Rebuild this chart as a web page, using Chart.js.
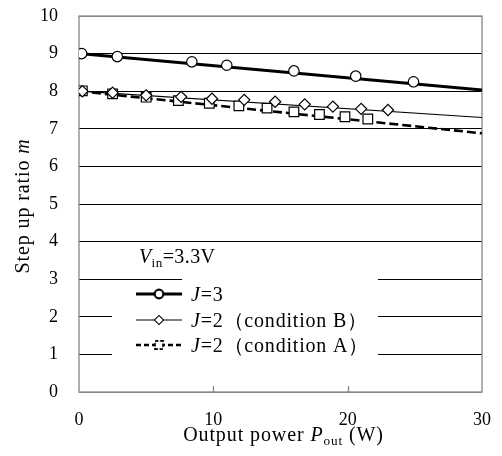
<!DOCTYPE html>
<html>
<head>
<meta charset="utf-8">
<style>
  html, body { margin: 0; padding: 0; background: #fff; }
  canvas { display: block; }
</style>
<script src="https://cdn.jsdelivr.net/npm/chart.js@4.4.1/dist/chart.umd.min.js"></script>
</head>
<body>
<canvas id="chart" width="502" height="456"></canvas>
<script>
const j3Power = [0.2, 2.85, 8.4, 11.0, 16.0, 20.6, 24.9];
const j3Ratio = [9.00, 8.92, 8.78, 8.69, 8.54, 8.40, 8.25];

const condBPower = [0.25, 2.5, 5.0, 7.6, 9.9, 12.3, 14.6, 16.8, 18.9, 21.0, 23.0];
const condBRatio = [8.00, 7.96, 7.89, 7.85, 7.80, 7.77, 7.72, 7.65, 7.59, 7.53, 7.50];

const condAPower = [0.25, 2.5, 5.0, 7.4, 9.7, 11.9, 14.0, 16.0, 17.9, 19.8, 21.5];
const condARatio = [8.01, 7.93, 7.84, 7.75, 7.68, 7.61, 7.55, 7.45, 7.38, 7.32, 7.26];

// linear trend lines, start and end of the x range
const trendPower = [0, 30];
const j3Trend = [9.00, 8.03];
const condBTrend = [8.00, 7.30];
const condATrend = [8.00, 6.88];

const xTicks = [0, 10, 20, 30];
const yTicks = [0, 1, 2, 3, 4, 5, 6, 7, 8, 9, 10];

const legendLabels = ['=3', '=2（condition B）', '=2（condition A）'];
const vinLabel = '=3.3V';

const SERIF = '"Liberation Serif", "Times New Roman", serif';
const TXT = 20;

function pts(xs, ys) {
  return xs.map((x, i) => ({ x: x, y: ys[i] }));
}

// mixed-style text runs: [text, italic, subscript]
function setRunFont(ctx, r, size) {
  const s = r[2] ? size * 0.66 : size;
  ctx.font = (r[1] ? 'italic ' : '') + s + 'px ' + SERIF;
}
function drawRuns(ctx, runs, x, y, size) {
  let cx = x;
  runs.forEach(r => {
    setRunFont(ctx, r, size);
    ctx.fillText(r[0], cx, r[2] ? y + size * 0.22 : y);
    cx += ctx.measureText(r[0]).width;
  });
  return cx - x;
}
function runsWidth(ctx, runs, size) {
  let w = 0;
  runs.forEach(r => {
    setRunFont(ctx, r, size);
    w += ctx.measureText(r[0]).width;
  });
  return w;
}

const framePlugin = {
  id: 'frame',
  beforeDatasetsDraw(chart) {
    const ctx = chart.ctx;
    const a = chart.chartArea;
    const xs = chart.scales.x;
    ctx.save();
    ctx.strokeStyle = '#858585';
    ctx.lineWidth = 1.3;
    ctx.strokeRect(a.left, a.top, a.right - a.left, a.bottom - a.top);
    // small inward tick marks on the x axis
    xTicks.slice(1, -1).forEach(v => {
      const px = Math.round(xs.getPixelForValue(v)) + 0.5;
      ctx.beginPath();
      ctx.moveTo(px, a.bottom);
      ctx.lineTo(px, a.bottom - 6);
      ctx.stroke();
    });
    ctx.restore();
  },
  afterDatasetsDraw(chart) {
    const ctx = chart.ctx;
    ctx.save();
    // white boxes behind the legend and the Vin label
    ctx.fillStyle = '#fff';
    ctx.fillRect(112, 282, 266, 88);
    ctx.fillRect(182, 244, 196, 40);

    ctx.fillStyle = '#000';
    ctx.textBaseline = 'alphabetic';
    ctx.textAlign = 'left';
    ctx.letterSpacing = '0.4px';
    drawRuns(ctx, [['V', true, false], ['in', false, true], [vinLabel, false, false]], 139, 263, TXT);

    const rows = [294, 320, 345];
    const styles = [
      { w: 3, dash: [], shape: 'circle', r: 3.9 },
      { w: 1.2, dash: [], shape: 'rectRot', r: 4.4 },
      { w: 2.5, dash: [5, 3], shape: 'rect', r: 5.3 }
    ];
    rows.forEach((y, i) => {
      const st = styles[i];
      ctx.strokeStyle = '#000';
      ctx.lineWidth = st.w;
      ctx.setLineDash(st.dash);
      ctx.beginPath();
      ctx.moveTo(136, y);
      ctx.lineTo(182, y);
      ctx.stroke();
      ctx.setLineDash(i === 2 ? [3, 2] : []);
      Chart.helpers.drawPoint(ctx, {
        pointStyle: st.shape, radius: st.r, borderWidth: 1, rotation: 0
      }, 159, y);
      ctx.fillStyle = '#fff';
      ctx.fill();
      ctx.lineWidth = 1;
      ctx.stroke();
      ctx.setLineDash([]);
      ctx.fillStyle = '#000';
      ctx.letterSpacing = '0.8px';
      drawRuns(ctx, [['J', true, false], [legendLabels[i], false, false]], 191, y + 7, TXT);
    });
    ctx.restore();
  },
  afterDraw(chart) {
    const ctx = chart.ctx;
    const a = chart.chartArea;
    ctx.save();
    ctx.fillStyle = '#000';
    ctx.textBaseline = 'alphabetic';
    ctx.textAlign = 'left';
    ctx.letterSpacing = '0.9px';
    // x axis title
    const xRuns = [['Output power ', false, false], ['P', true, false], ['out', false, true], [' (W)', false, false]];
    const xw = runsWidth(ctx, xRuns, TXT);
    drawRuns(ctx, xRuns, (a.left + a.right) / 2 + 3 - xw / 2, 441, TXT);
    // y axis title
    const yRuns = [['Step up ratio ', false, false], ['m', true, false]];
    const yw = runsWidth(ctx, yRuns, TXT);
    ctx.translate(29, (a.top + a.bottom) / 2 + 2);
    ctx.rotate(-Math.PI / 2);
    drawRuns(ctx, yRuns, -yw / 2, 0, TXT);
    ctx.restore();
  }
};

const markerBase = {
  showLine: false,
  borderColor: '#000',
  pointBackgroundColor: '#fff',
  pointBorderColor: '#000',
  pointBorderWidth: 1.2,
  order: 0
};
const trendBase = {
  showLine: true,
  borderColor: '#000',
  pointRadius: 0,
  fill: false,
  order: 1
};

new Chart(document.getElementById('chart'), {
  type: 'scatter',
  data: {
    datasets: [
      Object.assign({}, markerBase, { label: 'J=3', data: pts(j3Power, j3Ratio), pointStyle: 'circle', pointRadius: 5.2 }),
      Object.assign({}, markerBase, { label: 'J=2 (condition B)', data: pts(condBPower, condBRatio), pointStyle: 'rectRot', pointRadius: 5.6 }),
      Object.assign({}, markerBase, { label: 'J=2 (condition A)', data: pts(condAPower, condARatio), pointStyle: 'rect', pointRadius: 6.8 }),
      Object.assign({}, trendBase, { label: 'J=3 trend', data: pts(trendPower, j3Trend), borderWidth: 3 }),
      Object.assign({}, trendBase, { label: 'B trend', data: pts(trendPower, condBTrend), borderWidth: 1.2 }),
      Object.assign({}, trendBase, { label: 'A trend', data: pts(trendPower, condATrend), borderWidth: 2.6, borderDash: [9, 4] })
    ]
  },
  options: {
    responsive: false,
    animation: false,
    layout: { padding: { left: 0, right: 20, top: 16, bottom: 0 } },
    plugins: {
      legend: { display: false },
      title: { display: false },
      tooltip: { enabled: false }
    },
    scales: {
      x: {
        type: 'linear',
        min: 0,
        max: 30,
        afterBuildTicks: s => { s.ticks = xTicks.map(v => ({ value: v })); },
        afterFit: s => { s.height = 64; s.paddingLeft = 0; s.paddingRight = 0; },
        grid: { display: false, drawTicks: false },
        border: { display: false },
        ticks: {
          padding: 17,
          color: '#000',
          font: { family: SERIF, size: 18 }
        }
      },
      y: {
        min: 0,
        max: 10,
        afterBuildTicks: s => { s.ticks = yTicks.map(v => ({ value: v })); },
        afterFit: s => { s.width = 79; s.paddingTop = 0; s.paddingBottom = 0; },
        grid: {
          drawTicks: false,
          color: c => (c.tick.value === 0 || c.tick.value === 10) ? '#858585' : '#000',
          lineWidth: 1
        },
        border: { display: false },
        ticks: {
          padding: 21,
          color: '#000',
          font: { family: SERIF, size: 18 }
        }
      }
    }
  },
  plugins: [framePlugin]
});
</script>
</body>
</html>
